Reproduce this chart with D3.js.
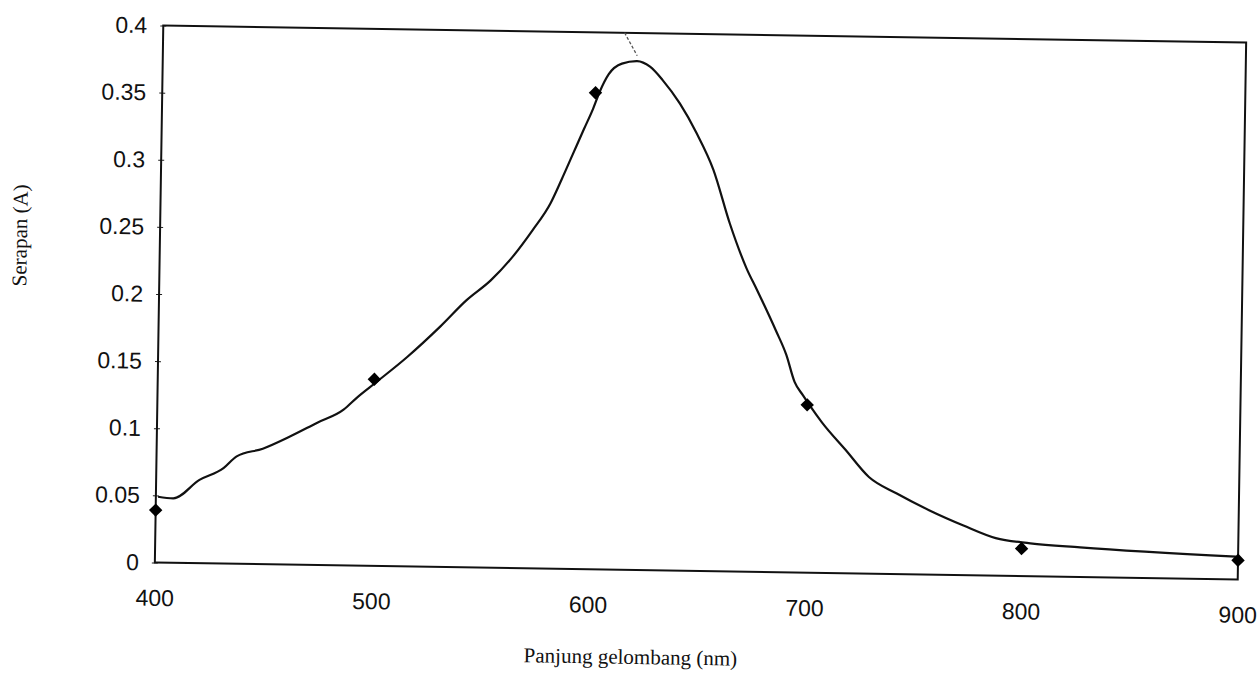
<!DOCTYPE html>
<html>
<head>
<meta charset="utf-8">
<script src="https://cdn.jsdelivr.net/npm/d3@7"></script>
<style>
    body { margin: 0; background: #fff; }
    svg { display: block; }
    .tick text { font-family: "Liberation Sans", Arial, sans-serif; }
</style>
</head>
<body>
<div id="chart"></div>
<script>
// Absorption spectrum
const wavelengths = [401, 408, 420, 431, 437, 449, 461, 474, 486, 492,
    501, 515, 530, 542, 553, 563, 572, 580, 585, 590,
    595, 599, 602, 606, 612, 619, 625, 631, 639,
    647, 655, 663, 671, 676, 685, 690, 694, 698, 701, 707,
    718, 729, 742, 757, 773, 788, 804, 827, 899];
const absorbance = [0.049, 0.048, 0.062, 0.071, 0.080, 0.086, 0.095, 0.106, 0.116, 0.125,
    0.137, 0.156, 0.179, 0.199, 0.214, 0.232, 0.252, 0.272, 0.290, 0.309,
    0.328, 0.343, 0.356, 0.369, 0.377, 0.379, 0.375, 0.365, 0.348,
    0.326, 0.299, 0.259, 0.226, 0.210, 0.180, 0.162, 0.142, 0.132, 0.125, 0.112,
    0.092, 0.072, 0.060, 0.048, 0.037, 0.028, 0.0245, 0.022, 0.017];

// Measured points (diamonds)
const markerNm = [400, 500, 600, 700, 800, 900];
const markerAbs = [0.039, 0.139, 0.355, 0.125, 0.0205, 0.0143];

// Little pencil mark above the peak
const dashNm = [613, 619];
const dashAbs = [0.4, 0.383];

const xTicks = [400, 500, 600, 700, 800, 900];
const yTicks = [0, 0.05, 0.1, 0.15, 0.2, 0.25, 0.3, 0.35, 0.4];

const xTitle = 'Panjung gelombang (nm)';
const yTitle = 'Serapan (A)';

const width = 1260;
const height = 681;
const margin = { top: 34, right: 18, bottom: 110, left: 159 };

const svg = d3.select('#chart')
    .append('svg')
    .attr('width', width)
    .attr('height', height);

// the scan is tilted a little, so the whole figure gets rotated
const cx = (margin.left + width - margin.right) / 2;
const cy = (margin.top + height - margin.bottom) / 2;
const g = svg.append('g')
    .attr('transform', `rotate(0.9, ${cx}, ${cy})`);

const x = d3.scaleLinear()
    .domain([400, 900])
    .range([margin.left, width - margin.right]);

const y = d3.scaleLinear()
    .domain([0, 0.4])
    .range([height - margin.bottom, margin.top]);

// y axis with small cross ticks
const yAxis = g.append('g')
    .attr('transform', `translate(${margin.left},0)`)
    .call(d3.axisLeft(y).tickValues(yTicks).tickSize(3).tickPadding(13)
        .tickFormat(d => d === 0 ? '0' : String(+d.toFixed(2))));
yAxis.select('.domain').remove();
yAxis.selectAll('line').attr('x2', -3).attr('x1', 3).attr('stroke', '#222');
yAxis.selectAll('text')
    .attr('font-size', 23)
    .attr('fill', '#111');

// x axis, labels only
const xAxis = g.append('g')
    .attr('transform', `translate(0,${height - margin.bottom})`)
    .call(d3.axisBottom(x).tickValues(xTicks).tickSize(0).tickPadding(27));
xAxis.select('.domain').remove();
xAxis.selectAll('text')
    .attr('font-size', 23)
    .attr('fill', '#111');

// plot frame
g.append('rect')
    .attr('x', x(400))
    .attr('y', y(0.4))
    .attr('width', x(900) - x(400))
    .attr('height', y(0) - y(0.4))
    .attr('fill', 'none')
    .attr('stroke', '#111')
    .attr('stroke-width', 2);

// spectrum curve
const line = d3.line()
    .x(d => x(d[0]))
    .y(d => y(d[1]))
    .curve(d3.curveMonotoneX);

g.append('path')
    .datum(wavelengths.map((w, i) => [w, absorbance[i]]))
    .attr('d', line)
    .attr('fill', 'none')
    .attr('stroke', '#111')
    .attr('stroke-width', 2.2);

// dashed mark near the maximum
g.append('path')
    .datum(dashNm.map((w, i) => [w, dashAbs[i]]))
    .attr('d', d3.line().x(d => x(d[0])).y(d => y(d[1])))
    .attr('fill', 'none')
    .attr('stroke', '#555')
    .attr('stroke-width', 1.3)
    .attr('stroke-dasharray', '3,2');

// diamond markers
const diamond = d3.symbol().type(d3.symbolSquare).size(90);
g.append('g')
    .selectAll('path')
    .data(markerNm.map((w, i) => [w, markerAbs[i]]))
    .join('path')
    .attr('d', diamond)
    .attr('transform', d => `translate(${x(d[0])},${y(d[1])}) rotate(45)`)
    .attr('fill', '#000');

// axis titles
g.append('text')
    .attr('x', 636)
    .attr('y', 665)
    .attr('text-anchor', 'middle')
    .attr('font-family', '"Liberation Serif", "Times New Roman", serif')
    .attr('font-size', 21)
    .attr('fill', '#111')
    .text(xTitle);

g.append('text')
    .attr('transform', 'translate(26,246) rotate(-90)')
    .attr('text-anchor', 'middle')
    .attr('font-family', '"Liberation Serif", "Times New Roman", serif')
    .attr('font-size', 21)
    .attr('fill', '#111')
    .text(yTitle);
</script>
</body>
</html>
